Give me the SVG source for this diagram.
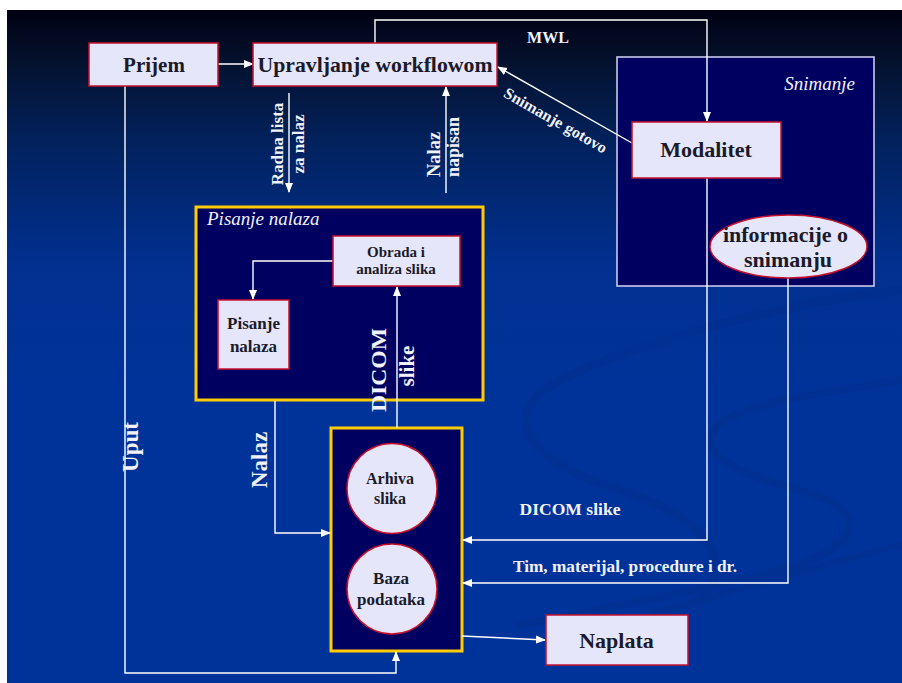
<svg xmlns="http://www.w3.org/2000/svg" width="902" height="683" viewBox="0 0 902 683">
  <defs>
    <linearGradient id="bg" x1="0" y1="0" x2="0" y2="1">
      <stop offset="0" stop-color="#010112"/>
      <stop offset="0.08" stop-color="#04122f"/>
      <stop offset="0.2" stop-color="#02225e"/>
      <stop offset="0.38" stop-color="#013090"/>
      <stop offset="0.55" stop-color="#003399"/>
      <stop offset="1" stop-color="#003399"/>
    </linearGradient>
    <marker id="ah" markerUnits="userSpaceOnUse" markerWidth="10" markerHeight="10" viewBox="0 0 10 10" refX="9" refY="5" orient="auto">
      <path d="M0,1 L10,5 L0,9 Z" fill="#ffffff"/>
    </marker>
    <style>
      .box { fill: #e6e6fa; stroke: #c8102e; stroke-width: 1.5; }
      .navy { fill: #000060; }
      .gold { fill: #000060; stroke: #ffcc00; stroke-width: 3; }
      .lbl { font-family: "Liberation Serif", "Times New Roman", serif; font-weight: bold; fill: #1a1a2a; text-anchor: middle; }
      .wt { font-family: "Liberation Serif", "Times New Roman", serif; font-weight: bold; fill: #f2f2fa; }
      .it { font-family: "Liberation Serif", "Times New Roman", serif; font-style: italic; fill: #f2f2fa; }
      .conn path { fill: none; stroke: #ffffff; stroke-width: 1.4; }
      .swirl { fill: none; stroke: #002f8e; stroke-linecap: round; }
    </style>
  </defs>

  <!-- background -->
  <rect x="7" y="10" width="895" height="673" fill="url(#bg)"/>
  <g id="decor" opacity="0.55">
    <path class="swirl" stroke-width="9" d="M902,290 C800,300 640,340 560,380 C500,410 520,460 620,490 C700,515 740,560 700,600"/>
    <path class="swirl" stroke-width="8" d="M902,380 C840,390 760,400 725,420 C690,445 720,470 800,490 C870,510 870,545 780,570 C700,590 600,610 520,625"/>
    <path class="swirl" stroke-width="7" d="M902,545 C820,565 700,600 600,630"/>
  </g>

  <!-- containers -->
  <g id="snimanje-group">
    <rect x="617" y="57" width="257" height="229" class="navy" stroke="#d4d4f4" stroke-width="1.5"/>
    <text class="it" x="855" y="90" font-size="19" text-anchor="end">Snimanje</text>
  </g>
  <g id="pisanje-group">
    <rect x="196" y="207" width="287" height="193" class="gold"/>
    <text class="it" x="207" y="225" font-size="19">Pisanje nalaza</text>
  </g>
  <g id="db-group">
    <rect x="331" y="428" width="131" height="223" class="gold"/>
  </g>

  <!-- connectors -->
  <g id="connectors" class="conn">
    <path d="M218,64 H253" marker-end="url(#ah)"/>
    <path d="M375,43 V20 H707 V121" marker-end="url(#ah)"/>
    <path d="M632,143 L498,67" marker-end="url(#ah)"/>
    <path d="M289,93 V192" marker-end="url(#ah)"/>
    <path d="M446,193 V87" marker-end="url(#ah)"/>
    <path d="M333,261 H253 V299" marker-end="url(#ah)"/>
    <path d="M397,428 V287" marker-end="url(#ah)"/>
    <path d="M275,401 V533 H330" marker-end="url(#ah)"/>
    <path d="M125,86 V673 H396 V652" marker-end="url(#ah)"/>
    <path d="M707,178 V540 H463" marker-end="url(#ah)"/>
    <path d="M788,278 V583 H463" marker-end="url(#ah)"/>
    <path d="M462,636 L545,640" marker-end="url(#ah)"/>
  </g>

  <!-- connector labels -->
  <g id="labels">
    <text class="wt" x="548" y="43" font-size="16" text-anchor="middle">MWL</text>
    <text class="wt" font-size="16" text-anchor="middle" transform="translate(553,125) rotate(29.7)" textLength="116" lengthAdjust="spacingAndGlyphs">Snimanje gotovo</text>
    <text class="wt" font-size="17" text-anchor="middle" transform="translate(283,144) rotate(-90)">Radna lista</text>
    <text class="wt" font-size="17" text-anchor="middle" transform="translate(304,144) rotate(-90)">za nalaz</text>
    <text class="wt" font-size="18.5" text-anchor="start" transform="translate(440,177) rotate(-90)">Nalaz</text>
    <text class="wt" font-size="18" text-anchor="start" transform="translate(459,177) rotate(-90)">napisan</text>
    <text class="wt" font-size="22" text-anchor="middle" transform="translate(386,370) rotate(-90)" textLength="84" lengthAdjust="spacingAndGlyphs">DICOM</text>
    <text class="wt" font-size="21" text-anchor="middle" transform="translate(414,366) rotate(-90)">slike</text>
    <text class="wt" font-size="23" text-anchor="middle" transform="translate(267,460) rotate(-90)">Nalaz</text>
    <text class="wt" font-size="23" text-anchor="middle" transform="translate(138,447) rotate(-90)">Uput</text>
    <text class="wt" x="570" y="515" font-size="17.5" text-anchor="middle" textLength="101" lengthAdjust="spacingAndGlyphs">DICOM slike</text>
    <text class="wt" x="625" y="572" font-size="17" text-anchor="middle" textLength="224" lengthAdjust="spacingAndGlyphs">Tim, materijal, procedure i dr.</text>
  </g>

  <!-- nodes -->
  <g id="prijem">
    <rect x="89" y="43" width="129" height="43" class="box"/>
    <text class="lbl" x="154" y="72" font-size="21">Prijem</text>
  </g>
  <g id="upravljanje">
    <rect x="253" y="43" width="244" height="43" class="box"/>
    <text class="lbl" x="375" y="72" font-size="21.5" textLength="235" lengthAdjust="spacingAndGlyphs">Upravljanje workflowom</text>
  </g>
  <g id="modalitet">
    <rect x="632" y="122" width="149" height="56" class="box"/>
    <text class="lbl" x="706" y="157" font-size="22">Modalitet</text>
  </g>
  <g id="informacije">
    <ellipse cx="788.5" cy="246.5" rx="78.5" ry="31.5" class="box"/>
    <text class="lbl" x="785.5" y="242" font-size="22">informacije o</text>
    <text class="lbl" x="788" y="267" font-size="22">snimanju</text>
  </g>
  <g id="obrada">
    <rect x="333" y="236" width="127" height="50" class="box"/>
    <text class="lbl" x="396" y="257" font-size="15">Obrada i</text>
    <text class="lbl" x="396" y="274" font-size="15">analiza slika</text>
  </g>
  <g id="pisanje">
    <rect x="218" y="300" width="71" height="69" class="box"/>
    <text class="lbl" x="253.5" y="329" font-size="17">Pisanje</text>
    <text class="lbl" x="253.5" y="352" font-size="17">nalaza</text>
  </g>
  <g id="arhiva">
    <circle cx="392" cy="488.5" r="45" class="box"/>
    <text class="lbl" x="390" y="484" font-size="16">Arhiva</text>
    <text class="lbl" x="390" y="504" font-size="16">slika</text>
  </g>
  <g id="baza">
    <circle cx="392" cy="589" r="45" class="box"/>
    <text class="lbl" x="391" y="584" font-size="17">Baza</text>
    <text class="lbl" x="391" y="605" font-size="17">podataka</text>
  </g>
  <g id="naplata">
    <rect x="546" y="615" width="142" height="50" class="box"/>
    <text class="lbl" x="616.5" y="648" font-size="22">Naplata</text>
  </g>
</svg>
